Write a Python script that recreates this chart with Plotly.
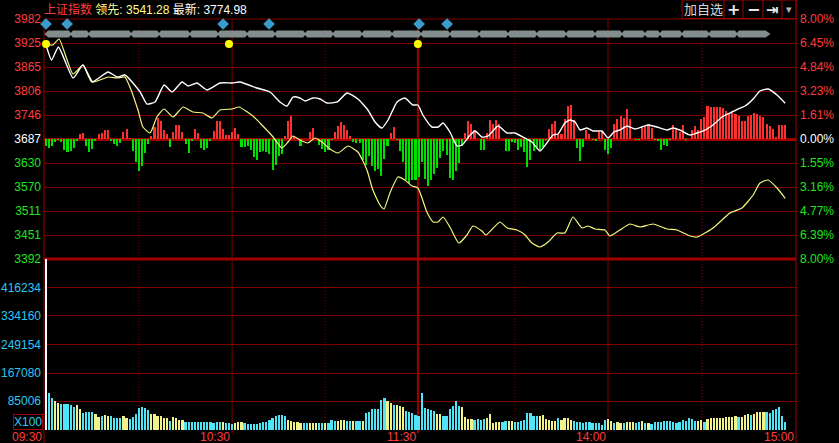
import plotly.graph_objects as go

# ---------------- data ----------------
prev_close = 3687.0
price_axis_min, price_axis_max = 3392.0, 3982.0

left_price_labels = ["3392", "3451", "3511", "3570", "3630", "3687",
                     "3746", "3806", "3865", "3925", "3982"]
right_pct_labels = ["8.00%", "6.39%", "4.77%", "3.16%", "1.55%", "0.00%",
                    "1.61%", "3.23%", "4.84%", "6.45%", "8.00%"]
vol_tick_labels = ["85006", "167080", "249154", "334160", "416234"]
time_labels = ["09:30", "10:30", "11:30", "14:00", "15:00"]
time_label_slots = [0.36, 60.9, 120.7, 181.9, 242.4]
hour_line_slots = [60.9, 120.7, 181.9]
half_hour_slots = [30.9, 90.8, 151.9, 212.1]

# white line (最新)
last_slots = [1.0, 2.8, 5.0, 9.7, 12.9, 15.8, 21.0, 23.9, 26.4, 31.3,
              33.5, 36.1, 39.0, 41.6, 44.8, 46.7, 49.6, 52.8, 57.0, 60.9,
              63.4, 68.9, 73.1, 76.3, 78.6, 80.5, 82.7, 84.4, 86.9, 89.2,
              91.4, 94.7, 97.9, 101.4, 104.6, 106.9, 109.1, 111.1, 114.0, 116.5,
              119.1, 120.7, 122.3, 125.2, 127.2, 128.8, 131.0, 133.3, 134.9, 137.5,
              139.1, 141.3, 143.3, 146.5, 149.4, 151.9, 154.5, 157.4, 160.0, 162.2,
              164.2, 165.8, 168.0, 169.7, 171.3, 172.9, 175.1, 177.1, 179.9, 181.9,
              183.8, 185.7, 188.0, 190.6, 192.8, 194.8, 197.6, 200.9, 202.8, 205.0,
              208.3, 210.5, 213.1, 215.7, 218.6, 221.1, 223.7, 226.0, 228.6, 230.8,
              233.4, 236.3, 238.9]
last_vals = [3918.1, 3881.2, 3913.2, 3837.0, 3868.9, 3827.1, 3851.7, 3839.4, 3844.3, 3802.5,
             3773.0, 3778.0, 3819.7, 3802.5, 3827.1, 3817.3, 3824.7, 3807.5, 3824.7, 3824.7,
             3827.1, 3812.4, 3802.5, 3778.0, 3768.1, 3790.2, 3787.8, 3780.4, 3787.8, 3785.3,
             3775.5, 3778.0, 3800.1, 3785.3, 3758.3, 3728.8, 3714.0, 3733.7, 3778.0, 3787.8,
             3770.6, 3770.6, 3746.0, 3716.5, 3716.5, 3726.3, 3704.2, 3669.8, 3672.3, 3696.8,
             3706.7, 3691.9, 3694.4, 3719.0, 3701.8, 3701.8, 3691.9, 3679.6, 3657.5, 3677.2,
             3696.8, 3699.3, 3726.3, 3733.7, 3728.8, 3709.1, 3714.0, 3706.7, 3706.7, 3689.5,
             3704.2, 3709.1, 3719.0, 3711.6, 3716.5, 3721.4, 3716.5, 3709.1, 3714.0, 3709.1,
             3696.8, 3701.8, 3709.1, 3721.4, 3741.1, 3750.9, 3760.7, 3768.1, 3785.3, 3805.0,
             3809.9, 3795.2, 3774.98]

# yellow line (领先)
lead_slots = [1.0, 3.2, 5.2, 9.7, 12.9, 16.1, 21.0, 23.9, 26.4, 28.0,
              30.6, 32.2, 34.5, 36.7, 39.0, 41.9, 45.1, 48.3, 51.5, 54.4,
              57.0, 60.9, 63.1, 67.6, 70.5, 74.1, 76.9, 78.9, 80.5, 82.7,
              85.3, 87.6, 89.8, 92.4, 95.0, 98.2, 101.4, 104.3, 106.2, 108.5,
              109.8, 111.7, 114.3, 116.5, 118.8, 120.7, 123.6, 125.6, 127.2, 128.8,
              131.0, 133.9, 136.5, 138.4, 141.3, 142.6, 147.1, 149.4, 152.6, 155.2,
              157.4, 160.0, 162.6, 165.5, 168.0, 170.6, 173.5, 175.4, 177.7, 180.9,
              182.5, 185.7, 189.0, 192.2, 196.4, 200.9, 204.1, 208.3, 210.5, 212.5,
              215.7, 218.6, 221.1, 225.0, 228.6, 230.8, 233.4, 236.3, 238.9]
lead_vals = [3920.5, 3918.1, 3932.8, 3846.8, 3868.9, 3827.1, 3839.4, 3837.0, 3839.4, 3814.8,
             3758.3, 3716.5, 3701.8, 3741.1, 3760.7, 3741.1, 3765.7, 3753.4, 3750.9, 3738.6,
             3758.3, 3760.7, 3765.7, 3743.5, 3721.4, 3691.9, 3664.9, 3679.6, 3694.4, 3684.5,
             3677.2, 3689.5, 3679.6, 3662.4, 3652.6, 3669.8, 3655.0, 3610.8, 3561.6, 3524.8,
             3514.9, 3554.3, 3593.6, 3586.2, 3571.5, 3566.5, 3507.5, 3483.0, 3483.0, 3495.3,
             3470.7, 3431.3, 3451.0, 3473.1, 3460.8, 3451.0, 3483.0, 3468.2, 3463.3, 3451.0,
             3431.3, 3421.5, 3433.8, 3455.9, 3455.9, 3495.3, 3468.2, 3473.1, 3465.8, 3463.3,
             3448.6, 3463.3, 3478.0, 3470.7, 3478.0, 3465.8, 3463.3, 3448.6, 3446.1, 3453.5,
             3468.2, 3487.9, 3505.1, 3517.4, 3549.3, 3578.8, 3586.2, 3566.5, 3541.28]

# red / green strength bars, one per minute slot (indicator units)
strength = [-7.3, -9, -6.7, -3.3, -0.7, -3.3, -11.3, -13.3, -12.3, -9.3,
            -2.3, 4.7, 5.7, -7.3, -13.3, -9.7, -1.3, 4.7, 5.7, 9.3,
            9.3, -1.3, -5, -6.7, -4.3, 7.3, 10.3, 0.7, -12.3, -23.3,
            -32.3, -27.3, -14, -5, 3.3, 12, 21, 18.3, 9.3, 4.7,
            -8.3, 7.3, 13.7, 13.7, 6.7, -5, -14, -2.3, 10.3, 5.7,
            -9, -11.3, -9, -1.3, 8.3, 17.7, 18.3, 10.3, 4.3, 3.7,
            7.3, 11, 4.7, -8.3, -8.3, -7.3, -11.3, -18.3, -20.7, -13.3,
            -12.3, -13.3, -14.7, -30.7, -26, -17.3, -14.7, 3.3, 18.3, 23.3,
            3.3, 0, -7.3, 0, 0, 7.3, 11, 0, -5.7, -10,
            -13.3, -10.7, -0.7, 7.3, 12.7, 17.3, 14.3, 9.3, 3.3, -3.3,
            -4, -4, -20.7, -25.7, -17.3, -27.3, -32.3, -30, -36.7, -20,
            -7.3, 6, 12, -0.7, -12.3, -23.3, -40.7, -44, -41.3, -40.7,
            -38, -23.3, -40, -46.7, -40.7, -34.7, -29, -19, -12.3, -15.7,
            -39, -40.7, -32.3, -24, -7.3, 6, 17.7, 15.3, 9.3, 0,
            -10.7, -11.3, 6, 18.7, 15.3, 18.7, 14.7, 0, -12.3, -12.3,
            -3.3, -4, -10.7, -8, -13.3, -28, -20.7, -12.3, -10, -11.3,
            -8, -1, 10.3, 15.3, 17.7, 5.3, 5.3, 20, 33.3, 34.3,
            19.3, -9, -22.3, -8, 8.7, 5.3, -1, -2, 7.7, 7.7,
            -10.7, -14.7, -9, 15.3, 20, 22.7, 21, 30, 20, 0,
            -1, -1, 11, 13.3, 15.3, 11, -1, -2.3, -10.7, -5.7,
            -7.3, -1, 14.3, 11, 6.7, 14.3, -1, 0, 8.7, 13.3,
            8.7, 20, 22, 32.7, 31.7, 31.7, 31.7, 31.7, 31, 27.7,
            26, 27.7, 25.3, 23.3, 17.7, 18.3, 23.3, 24.3, 26, 25.3,
            22.7, 22, 15.3, 12.7, 10, 2, 14.3, 14.3, 14.3]

# volume per minute slot, in thousands (x100 shares); first slot is the opening volume
volume_k = [560,
            108, 93, 84, 80, 76, 76, 76, 72, 66, 73,
            62, 50, 52, 52, 52, 47, 37, 42, 44, 40,
            42, 35, 35, 35, 42, 35, 32, 37, 47, 64,
            66, 64, 60, 47, 47, 42, 42, 35, 35, 27,
            37, 35, 30, 30, 24, 24, 24, 24, 24, 24,
            22, 22, 22, 21, 22, 22, 24, 21, 21, 18,
            20, 22, 24, 21, 18, 18, 18, 18, 21, 22,
            24, 30, 34, 42, 45, 45, 42, 30, 27, 24,
            22, 20, 20, 21, 21, 21, 21, 21, 21, 21,
            21, 29, 27, 27, 30, 30, 25, 25, 25, 25,
            27, 27, 50, 54, 62, 62, 62, 89, 94, 86,
            79, 74, 74, 69, 66, 57, 52, 49, 44, 40,
            108, 64, 62, 59, 57, 47, 47, 42, 42, 62,
            71, 86, 71, 66, 39, 32, 32, 29, 32, 29,
            32, 35, 47, 21, 24, 22, 24, 27, 25, 25,
            22, 24, 27, 29, 50, 50, 42, 42, 42, 45,
            32, 29, 27, 27, 35, 29, 34, 35, 29, 27,
            24, 24, 20, 22, 24, 21, 21, 20, 16, 29,
            32, 27, 20, 22, 20, 20, 24, 22, 22, 20,
            22, 27, 20, 21, 18, 24, 24, 24, 27, 25,
            27, 22, 20, 22, 29, 27, 35, 32, 27, 27,
            29, 22, 32, 35, 35, 34, 34, 35, 37, 39,
            39, 42, 39, 39, 44, 47, 44, 47, 54, 54,
            54, 54, 50, 59, 62, 68, 42, 24]
# bar colour codes: W = opening, C = cyan, Y = yellow
volume_dir = ("W"
              "CCYYCCCCCY" "YCCCCYYCYY" "CCCCYYCCCC" "CCCYYYYYYC" "YYYYCCCCCC" "CCCCCCYCCC"
              "YYYCCCCCCC" "CCCCCCCYYY" "YYCCYYYCCY" "CCCYYYCCYC" "CYCCCCCCCY" "YCYYYCCCCC"
              "CCCCCYYCCC" "CCCYYYYCCC" "CYYYYYCCYY" "CCCCCCCCYY" "YYYYCYYYYC" "CCCCCCCCCC"
              "YYCYYCYYYC" "CYCYCCCCCC" "CCCCCCCCCY" "YCYYYYYYYY" "YYCYYYCYYY" "YCCCCCCC")

event_slots = [1.0, 7.8, 58.0, 72.8, 121.1, 130.1]     # blue diamonds
signal_slots = [1.0, 59.9, 120.7]                      # yellow dots
band_slots = [0.45, 234.2]                              # grey strip extent
band_notch_slots = [9.0, 14.8, 28.4, 37.4, 47.3, 56.4, 65.7, 74.7, 84.4, 93.4,
                    102.7, 112.4, 121.7, 131.0, 140.4, 149.7, 159.0, 168.4, 177.7,
                    186.4, 193.8, 198.6, 205.7, 214.4, 223.4]

# ---------------- geometry / style ----------------
W, H = 839, 443
ML, MR, MT, MB = 44, 43, 19, 13
PW, PH = W - ML - MR, H - MT - MB
VOL_PX = 171
dom_split = VOL_PX / PH


def px_x(p):
    return (p - ML) / PW


def px_y(p):
    return (H - MB - p) / PH


slot_range = [0.356, 242.4]
strength_range = [-120, 120]
vol_top = 501200
vpp = (price_axis_max - price_axis_min) / 240.0   # price units per pixel

RED_T = "#ff3c3c"
GREEN_T = "#1ee41e"
CYAN_T = "#2cc8f2"
GRID = "#800000"
THICK = "#a00000"
FONT = "Liberation Sans, Noto Sans CJK SC, sans-serif"

price_tickvals = [price_axis_min + i * (price_axis_max - price_axis_min) / 10 for i in range(11)]
mid = left_price_labels.index(str(int(prev_close)))


def tone(i):
    return GREEN_T if i < mid else ("#ffffff" if i == mid else RED_T)


left_text = ["<span style='color:%s'>%s</span>" % (tone(i), t) for i, t in enumerate(left_price_labels)]
right_text = ["<span style='color:%s'>%s</span>" % (tone(i), t) for i, t in enumerate(right_pct_labels)]

n = len(strength)
slots = list(range(1, n + 1))
vslots = list(range(1, len(volume_k) + 1))

fig = go.Figure()

# strength bars (base axis y)
fig.add_trace(go.Bar(
    x=slots, y=strength, width=0.5, xaxis="x", yaxis="y",
    marker=dict(color=["#ff3030" if v > 0 else "#00e000" for v in strength], line=dict(width=0)),
    hoverinfo="skip"))

# volume bars
cmap = {"W": "#ffffff", "C": "#4fe4f6", "Y": "#f2f28a"}
fig.add_trace(go.Bar(
    x=vslots, y=[v * 1000 for v in volume_k], width=0.55, xaxis="x", yaxis="y4",
    marker=dict(color=[cmap[c] for c in volume_dir], line=dict(width=0)),
    hoverinfo="skip"))

# grey event strip
band_lvl = price_axis_max - 15 * vpp
b0, b1 = band_slots
hh = 3.5 * vpp
fig.add_trace(go.Scatter(
    x=[b0, b0 + 1.3, b1 - 1.6, b1, b1 - 1.6, b0 + 1.3, b0],
    y=[band_lvl, band_lvl + hh, band_lvl + hh, band_lvl, band_lvl - hh, band_lvl - hh, band_lvl],
    mode="lines", fill="toself", fillcolor="#838d8d", line=dict(width=0),
    xaxis="x", yaxis="y2", hoverinfo="skip", cliponaxis=False))
fig.add_trace(go.Scatter(
    x=band_notch_slots + band_notch_slots,
    y=[band_lvl + hh + 0.6 * vpp] * len(band_notch_slots) + [band_lvl - hh - 0.6 * vpp] * len(band_notch_slots),
    mode="markers",
    marker=dict(symbol=["triangle-down"] * len(band_notch_slots) + ["triangle-up"] * len(band_notch_slots),
                size=6, color="#000000", line=dict(width=0)),
    xaxis="x", yaxis="y2", hoverinfo="skip", cliponaxis=False))

# lines
fig.add_trace(go.Scatter(
    x=lead_slots, y=lead_vals, mode="lines", xaxis="x", yaxis="y2",
    line=dict(color="#f6f67c", width=1.2, shape="spline", smoothing=0.5), hoverinfo="skip"))
fig.add_trace(go.Scatter(
    x=last_slots, y=last_vals, mode="lines", xaxis="x", yaxis="y2",
    line=dict(color="#ffffff", width=1.4, shape="spline", smoothing=0.5), hoverinfo="skip"))

# markers
fig.add_trace(go.Scatter(
    x=event_slots, y=[price_axis_max - 5 * vpp] * len(event_slots), mode="markers",
    marker=dict(symbol="diamond", size=9, color="#3a9ccc"), xaxis="x", yaxis="y2",
    cliponaxis=False, hoverinfo="skip"))
fig.add_trace(go.Scatter(
    x=signal_slots, y=[price_axis_max - 25 * vpp] * len(signal_slots), mode="markers",
    marker=dict(symbol="circle", size=8, color="#ffff00"), xaxis="x", yaxis="y2",
    cliponaxis=False, hoverinfo="skip"))

# invisible anchor trace so the right-hand percent axis is drawn
fig.add_trace(go.Scatter(
    x=[slot_range[0]], y=[prev_close], mode="markers", marker=dict(opacity=0),
    xaxis="x", yaxis="y3", hoverinfo="skip"))

shapes = []
# borders
shapes.append(dict(type="line", xref="paper", yref="paper", x0=0, x1=1, y0=1, y1=1,
                   line=dict(color=GRID, width=1), layer="below"))
shapes.append(dict(type="line", xref="paper", yref="paper", x0=0, x1=1, y0=dom_split, y1=dom_split,
                   line=dict(color=THICK, width=3), layer="below"))
shapes.append(dict(type="line", xref="paper", yref="paper", x0=0, x1=0, y0=px_y(H), y1=1,
                   line=dict(color=THICK, width=1), layer="below"))
shapes.append(dict(type="line", xref="paper", yref="paper", x0=1, x1=1, y0=px_y(H), y1=px_y(0),
                   line=dict(color=THICK, width=1), layer="below"))
for s in hour_line_slots:
    shapes.append(dict(type="line", xref="x", yref="paper", x0=s, x1=s, y0=px_y(433), y1=1,
                       line=dict(color=THICK if s == 120.7 else GRID, width=2 if s == 120.7 else 1),
                       layer="below"))
for s in half_hour_slots:
    shapes.append(dict(type="line", xref="x", yref="paper", x0=s, x1=s, y0=0, y1=1,
                       line=dict(color=GRID, width=1, dash="1px,2px"), layer="below"))

# top-right button bar
shapes.append(dict(type="rect", xref="paper", yref="paper", x0=px_x(682), x1=1, y0=px_y(18.5), y1=px_y(0),
                   line=dict(color=THICK, width=1), fillcolor="#000000", layer="above"))
for p in [724, 743, 763, 782]:
    shapes.append(dict(type="line", xref="paper", yref="paper", x0=px_x(p), x1=px_x(p),
                       y0=px_y(18.5), y1=px_y(0), line=dict(color=THICK, width=1), layer="above"))

annotations = []
annotations.append(dict(
    xref="paper", yref="paper", x=px_x(42), y=px_y(9.5), xanchor="left", yanchor="middle",
    showarrow=False, font=dict(family=FONT, size=12),
    text=("<span style='color:%s'>上证指数</span> <span style='color:#ffff8c'>领先: %.2f</span>"
          " <span style='color:#ffffff'>最新: %.2f</span>") % (RED_T, lead_vals[-1], last_vals[-1])))
for txt, cx, sz, col in [("加自选", 703, 13, "#d8d8d8"), ("<b>+</b>", 733.5, 16, "#e8e8e8"),
                         ("<b>−</b>", 753, 16, "#e8e8e8"), ("<b>⇥</b>", 772.5, 15, "#e8e8e8"),
                         ("▾", 789, 11, "#bbbbbb")]:
    annotations.append(dict(xref="paper", yref="paper", x=px_x(cx), y=px_y(9.5), xanchor="center",
                            yanchor="middle", showarrow=False, text=txt,
                            font=dict(family="DejaVu Sans, Noto Sans CJK SC", size=sz, color=col)))
for txt, s in zip(time_labels, time_label_slots):
    annotations.append(dict(xref="x", yref="paper", x=s, y=px_y(436.5), xanchor="right", yanchor="middle",
                            showarrow=False, text=txt,
                            font=dict(family=FONT, size=12, color=RED_T)))
annotations.append(dict(xref="paper", yref="paper", x=px_x(28), y=px_y(422), xanchor="center",
                        yanchor="middle", showarrow=False, text="X100",
                        bordercolor=THICK, borderwidth=1, borderpad=0,
                        font=dict(family=FONT, size=12, color=CYAN_T)))

fig.update_layout(
    width=W, height=H, margin=dict(l=ML, r=MR, t=MT, b=MB, autoexpand=False),
    paper_bgcolor="#000000", plot_bgcolor="#000000",
    showlegend=False, hovermode=False, barmode="overlay", bargap=0,
    font=dict(family=FONT, size=12, color=RED_T),
    xaxis=dict(domain=[0, 1], range=slot_range, anchor="y4", showgrid=False, zeroline=False,
               showticklabels=False, showline=False, ticks="", fixedrange=True),
    yaxis=dict(domain=[dom_split, 1], range=strength_range, anchor="x", showgrid=False,
               zeroline=True, zerolinecolor=THICK, zerolinewidth=3, showticklabels=False,
               ticks="", showline=False, fixedrange=True),
    yaxis2=dict(overlaying="y", anchor="x", side="left", range=[price_axis_min, price_axis_max],
                tickmode="array", tickvals=price_tickvals, ticktext=left_text,
                showgrid=True, gridcolor=GRID, gridwidth=1, zeroline=False, showline=False,
                ticks="", ticklabelstandoff=2, tickfont=dict(family=FONT, size=12),
                fixedrange=True),
    yaxis3=dict(overlaying="y", anchor="x", side="right", range=[price_axis_min, price_axis_max],
                tickmode="array", tickvals=price_tickvals, ticktext=right_text,
                showgrid=False, zeroline=False, showline=False, ticks="", ticklabelstandoff=3,
                tickfont=dict(family=FONT, size=12), fixedrange=True),
    yaxis4=dict(domain=[0, dom_split], anchor="x", range=[0, vol_top], tickmode="array",
                tickvals=[int(t) for t in vol_tick_labels], ticktext=vol_tick_labels,
                showgrid=True, gridcolor=GRID, gridwidth=1, zeroline=False, showline=False,
                ticks="", ticklabelstandoff=2, tickfont=dict(family=FONT, size=12, color=CYAN_T),
                fixedrange=True),
    shapes=shapes, annotations=annotations,
)

fig.write_html("out.html", include_plotlyjs=True, config={"displayModeBar": False},
               post_script="document.body.style.margin='0px';document.body.style.overflow='hidden';")
